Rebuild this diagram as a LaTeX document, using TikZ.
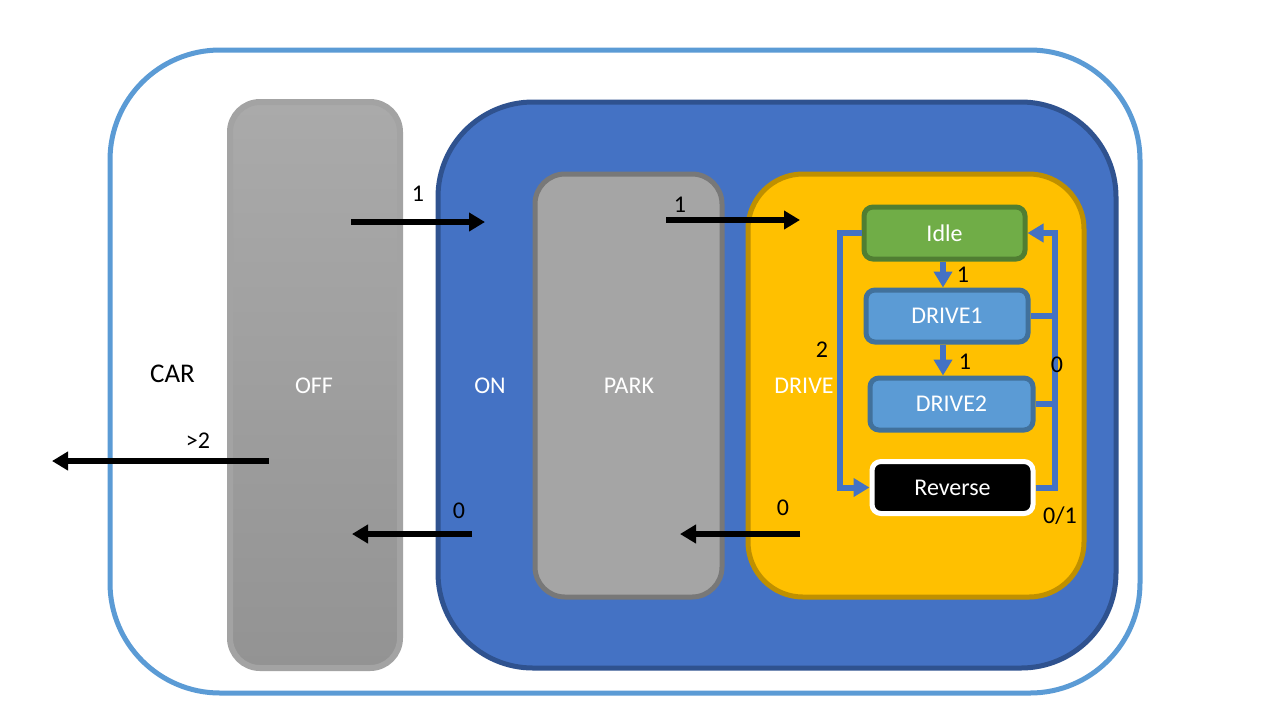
\documentclass[tikz,border=0pt]{standalone}
\usepackage{fontspec}
\setmainfont{Carlito}
\usetikzlibrary{arrows.meta,calc,positioning}
\def\pu{0.5pt}
\definecolor{carblue}{HTML}{5B9BD5}
\definecolor{onfill}{HTML}{4472C4}
\definecolor{ondraw}{HTML}{2F528F}
\definecolor{parkfill}{HTML}{A5A5A5}
\definecolor{parkdraw}{HTML}{787878}
\definecolor{drivefill}{HTML}{FFC000}
\definecolor{drivedraw}{HTML}{BF9000}
\definecolor{idlefill}{HTML}{70AD47}
\definecolor{idledraw}{HTML}{507E32}
\definecolor{dfill}{HTML}{5B9BD5}
\definecolor{ddraw}{HTML}{41719C}
\definecolor{offtop}{HTML}{AAAAAA}
\definecolor{offbot}{HTML}{939393}
\definecolor{offdraw}{HTML}{A3A3A3}
\tikzset{
  txt/.style={font=\fontsize{12}{14}\selectfont, inner sep=0pt},
  wtxt/.style={txt, text=white},
  container/.style={rectangle, line width=5*\pu, txt},
  statebox/.style={rectangle, rounded corners=9*\pu, line width=5*\pu, wtxt,
    minimum height=52*\pu},
  blackarrow/.style={line width=6*\pu, -{Triangle[length=16*\pu,width=18*\pu]}},
  bluearrow/.style={line width=6*\pu, draw=onfill, -{Triangle[length=16*\pu,width=18*\pu]}},
  blueline/.style={line width=6*\pu, draw=onfill},
}
\begin{document}
\begin{tikzpicture}[x=0.5pt,y=-0.5pt]
\useasboundingbox[fill=white] (0,0) rectangle (1280,720);
% CAR
\node[container, draw=carblue, fill=white, rounded corners=110*\pu,
  minimum width=1030*\pu, minimum height=643*\pu] (car) at (625,371.5) {};
\node[txt, font=\fontsize{13.5}{16}\selectfont] (carlbl) at (172.5,374) {CAR};
% OFF
\node[container, draw=offdraw, top color=offtop, bottom color=offbot, rounded corners=30*\pu,
  line width=6*\pu, minimum width=170*\pu, minimum height=566*\pu] (off) at (315,385) {};
\node[wtxt] (offlbl) at (314,386) {OFF};
% ON
\node[container, draw=ondraw, fill=onfill, rounded corners=95*\pu,
  minimum width=678*\pu, minimum height=566*\pu] (on) at (777,385) {};
\node[wtxt] (onlbl) at (490,386) {ON};
% PARK
\node[container, draw=parkdraw, fill=parkfill, rounded corners=30*\pu,
  minimum width=187*\pu, minimum height=423*\pu] (park) at (628.5,385.5) {};
\node[wtxt] (parklbl) at (629,386) {PARK};
% DRIVE
\node[container, draw=drivedraw, fill=drivefill, rounded corners=55*\pu,
  minimum width=336*\pu, minimum height=423*\pu] (drive) at (916,385.5) {};
\node[wtxt] (drivelbl) at (804,386) {DRIVE};
% states
\node[statebox, draw=idledraw, fill=idlefill, minimum width=161*\pu] (idle) at (944.5,233) {Idle};
\node[statebox, draw=ddraw, fill=dfill, minimum width=162*\pu] (d1) at (947,316) {DRIVE1};
\node[statebox, draw=ddraw, fill=dfill, minimum width=163*\pu] (d2) at (951.5,404) {DRIVE2};
\node[statebox, draw=white, fill=black, minimum width=161*\pu] (rev) at (952.5,487.5) {Reverse};
% black arrows
\coordinate (a1s) at (351,222); \coordinate (a1e) at (485,222);
\coordinate (a2s) at (666,220); \coordinate (a2e) at (800,220);
\coordinate (a3s) at (269,461); \coordinate (a3e) at (52,461);
\coordinate (a4s) at (472,534); \coordinate (a4e) at (352,534);
\coordinate (a5s) at (800,534); \coordinate (a5e) at (680,534);
\draw[blackarrow] (a1s) -- (a1e);
\draw[blackarrow] (a2s) -- (a2e);
\draw[blackarrow] (a3s) -- (a3e);
\draw[blackarrow] (a4s) -- (a4e);
\draw[blackarrow] (a5s) -- (a5e);
\node[txt] (l1) at (418,194) {1};
\node[txt] (l2) at (680,205) {1};
\node[txt] (l3) at (198,441) {>2};
\node[txt] (l4) at (459,511) {0};
\node[txt] (l5) at (783,508) {0};
% blue connectors
\draw[bluearrow] (idle.south -| 943,0) -- (943,0 |- d1.north);
\draw[bluearrow] (d1.south -| 943,0) -- (943,0 |- d2.north);
\coordinate (lbus) at (840,233);
\coordinate (rbus) at (1055,233);
\draw[bluearrow] (idle.west) -- (lbus) |- (rev.west);
\draw[bluearrow] (rev.east) -| (rbus) -- (idle.east);
\draw[blueline] (d1.east) -- (d1.east -| rbus);
\draw[blueline] (d2.east) -- (d2.east -| rbus);
\node[txt] (l6) at (963,275) {1};
\node[txt] (l7) at (965,362) {1};
\node[txt] (l8) at (822,350) {2};
\node[txt] (l9) at (1057,365) {0};
\node[txt] (l10) at (1060,516) {0/1};
\end{tikzpicture}
\end{document}
